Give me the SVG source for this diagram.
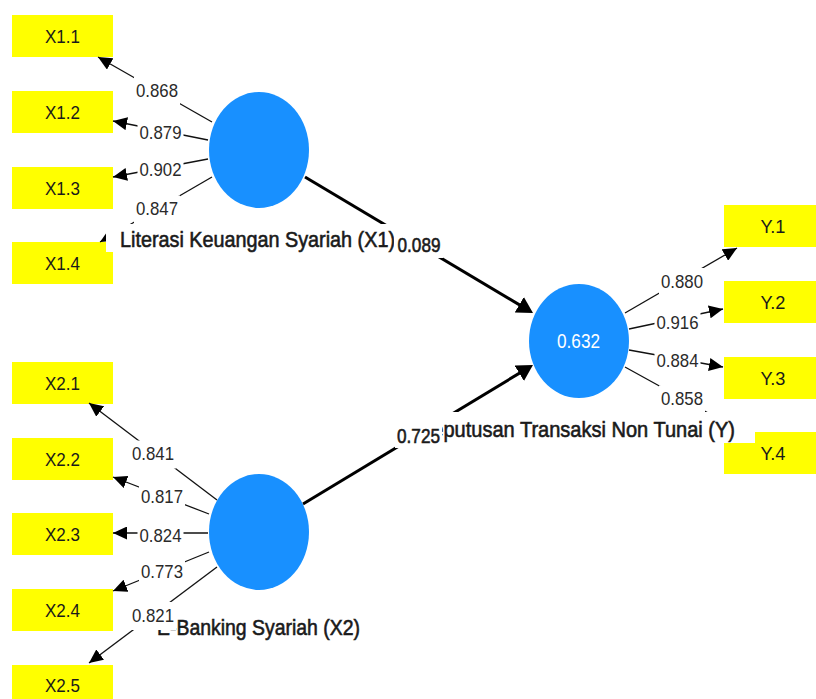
<svg xmlns="http://www.w3.org/2000/svg" width="816" height="699" viewBox="0 0 816 699">
  <style>
    text { font-family: "Liberation Sans", Arial, sans-serif; }
    .ind rect { fill: #ffff00; }
    .ind text { font-size: 18.5px; fill: #1a1a1a; text-anchor: middle; }
    .lv ellipse { fill: #1890ff; }
    .lv .name { font-size: 22px; fill: #1a1a1a; stroke: #1a1a1a; stroke-width: 0.6; }
    .lv .bg, .lbl rect { fill: #ffffff; }
    .r2 { font-size: 21px; fill: #ffffff; text-anchor: middle; }
    .load { stroke: #111; stroke-width: 1.3; fill: none; marker-end: url(#headS); }
    .path { stroke: #000; stroke-width: 3; fill: none; marker-end: url(#headL); }
    .lbl text { font-size: 18.5px; fill: #2a2a2a; text-anchor: middle; }
    .lbl text.b { font-size: 21px; fill: #1a1a1a; stroke: #1a1a1a; stroke-width: 0.6; }
  </style>
  <defs>
    <marker id="headS" markerUnits="userSpaceOnUse" markerWidth="14" markerHeight="13" refX="14" refY="6.5" orient="auto">
      <path d="M0,0 L14,6.5 L0,13 Z" fill="#000"/>
    </marker>
    <marker id="headL" markerUnits="userSpaceOnUse" markerWidth="16" markerHeight="18" refX="11" refY="9" orient="auto">
      <path d="M0,0 L16,9 L0,18 Z" fill="#000"/>
    </marker>
  </defs>
  <rect width="816" height="699" fill="#ffffff"/>

  <!-- indicators -->
  <g id="X1.1" class="ind"><rect x="12" y="15" width="101" height="42"/><text x="62.5" y="42.5" textLength="35" lengthAdjust="spacingAndGlyphs">X1.1</text></g>
  <g id="X1.2" class="ind"><rect x="12" y="91" width="101" height="42"/><text x="62.5" y="118.5" textLength="35" lengthAdjust="spacingAndGlyphs">X1.2</text></g>
  <g id="X1.3" class="ind"><rect x="12" y="167" width="101" height="42"/><text x="62.5" y="194.5" textLength="35" lengthAdjust="spacingAndGlyphs">X1.3</text></g>
  <g id="X1.4" class="ind"><rect x="12" y="242" width="101" height="42"/><text x="62.5" y="269.5" textLength="35" lengthAdjust="spacingAndGlyphs">X1.4</text></g>
  <g id="X2.1" class="ind"><rect x="12" y="362" width="101" height="42"/><text x="62.5" y="389.5" textLength="35" lengthAdjust="spacingAndGlyphs">X2.1</text></g>
  <g id="X2.2" class="ind"><rect x="12" y="438" width="101" height="42"/><text x="62.5" y="465.5" textLength="35" lengthAdjust="spacingAndGlyphs">X2.2</text></g>
  <g id="X2.3" class="ind"><rect x="12" y="513" width="101" height="42"/><text x="62.5" y="540.5" textLength="35" lengthAdjust="spacingAndGlyphs">X2.3</text></g>
  <g id="X2.4" class="ind"><rect x="12" y="589" width="101" height="42"/><text x="62.5" y="616.5" textLength="35" lengthAdjust="spacingAndGlyphs">X2.4</text></g>
  <g id="X2.5" class="ind"><rect x="12" y="665" width="101" height="42"/><text x="62.5" y="691.5" textLength="35" lengthAdjust="spacingAndGlyphs">X2.5</text></g>
  <g id="Y.1" class="ind"><rect x="724" y="205" width="101" height="42"/><text x="773" y="232.5" textLength="25" lengthAdjust="spacingAndGlyphs">Y.1</text></g>
  <g id="Y.2" class="ind"><rect x="724" y="281" width="101" height="42"/><text x="773" y="308.5" textLength="25" lengthAdjust="spacingAndGlyphs">Y.2</text></g>
  <g id="Y.3" class="ind"><rect x="724" y="357" width="101" height="42"/><text x="773" y="384.5" textLength="25" lengthAdjust="spacingAndGlyphs">Y.3</text></g>
  <g id="Y.4" class="ind"><rect x="724" y="432" width="101" height="42"/><text x="773" y="459.5" textLength="25" lengthAdjust="spacingAndGlyphs">Y.4</text></g>

  <!-- connectors -->
  <g id="connectors">
    <line class="load" x1="212" y1="122" x2="98" y2="57"/>
    <line class="load" x1="208" y1="140" x2="113" y2="121"/>
    <line class="load" x1="208" y1="159" x2="113" y2="177"/>
    <line class="load" x1="212" y1="177" x2="100" y2="242"/>
    <line class="load" x1="217" y1="500" x2="89" y2="403"/>
    <line class="load" x1="209" y1="514" x2="113" y2="477"/>
    <line class="load" x1="208" y1="533" x2="113" y2="533"/>
    <line class="load" x1="209" y1="552" x2="113" y2="591"/>
    <line class="load" x1="217" y1="567" x2="89" y2="663"/>
    <line class="load" x1="625" y1="313" x2="737" y2="248"/>
    <line class="load" x1="629" y1="329" x2="723" y2="309"/>
    <line class="load" x1="629" y1="350" x2="723" y2="367"/>
    <line class="load" x1="625" y1="367" x2="739" y2="430"/>
    <line class="path" x1="305" y1="177" x2="528.7" y2="310.4"/>
    <line class="path" x1="303" y1="504" x2="528.7" y2="367.6"/>
  </g>

  <!-- constructs -->
  <g id="X1" class="lv">
    <ellipse cx="259" cy="150" rx="50" ry="58"/>
    <rect class="bg" x="106" y="224" width="309" height="28"/>
    <text class="name" x="120" y="247" textLength="275" lengthAdjust="spacingAndGlyphs">Literasi Keuangan Syariah (X1)</text>
  </g>
  <g id="X2" class="lv">
    <ellipse cx="259" cy="532" rx="50" ry="58"/>
    <rect class="bg" x="145" y="610" width="235" height="31"/>
    <text class="name" x="157" y="635" textLength="203" lengthAdjust="spacingAndGlyphs">E-Banking Syariah (X2)</text>
  </g>
  <g id="Y" class="lv">
    <ellipse cx="579" cy="341" rx="50" ry="57"/>
    <text class="r2" x="578.5" y="348" textLength="43" lengthAdjust="spacingAndGlyphs">0.632</text>
    <rect class="bg" x="405" y="412" width="350" height="31"/>
    <text class="name" x="419" y="437" textLength="316" lengthAdjust="spacingAndGlyphs">Keputusan Transaksi Non Tunai (Y)</text>
  </g>

  <!-- connector labels -->
  <g id="connector-labels" class="lbl">
    <rect x="134" y="77" width="46" height="28"/><text x="157" y="96.6" textLength="42" lengthAdjust="spacingAndGlyphs">0.868</text>
    <rect x="137.5" y="119.5" width="46" height="28"/><text x="160.5" y="139.1" textLength="42" lengthAdjust="spacingAndGlyphs">0.879</text>
    <rect x="137.5" y="156.5" width="46" height="28"/><text x="160.5" y="176.1" textLength="42" lengthAdjust="spacingAndGlyphs">0.902</text>
    <rect x="134" y="195.5" width="46" height="28"/><text x="157" y="215.1" textLength="42" lengthAdjust="spacingAndGlyphs">0.847</text>
    <rect x="130" y="440.5" width="46" height="28"/><text x="153" y="460.1" textLength="42" lengthAdjust="spacingAndGlyphs">0.841</text>
    <rect x="139" y="483.5" width="46" height="28"/><text x="162" y="503.1" textLength="42" lengthAdjust="spacingAndGlyphs">0.817</text>
    <rect x="137.5" y="522" width="46" height="28"/><text x="160.5" y="541.6" textLength="42" lengthAdjust="spacingAndGlyphs">0.824</text>
    <rect x="139" y="558.5" width="46" height="28"/><text x="162" y="578.1" textLength="42" lengthAdjust="spacingAndGlyphs">0.773</text>
    <rect x="130" y="602" width="46" height="28"/><text x="153" y="621.6" textLength="42" lengthAdjust="spacingAndGlyphs">0.821</text>
    <rect x="659" y="268" width="46" height="28"/><text x="682" y="287.6" textLength="42" lengthAdjust="spacingAndGlyphs">0.880</text>
    <rect x="654.5" y="309.5" width="46" height="28"/><text x="677.5" y="329.1" textLength="42" lengthAdjust="spacingAndGlyphs">0.916</text>
    <rect x="654.5" y="347" width="46" height="28"/><text x="677.5" y="366.6" textLength="42" lengthAdjust="spacingAndGlyphs">0.884</text>
    <rect x="659" y="385.5" width="46" height="28"/><text x="682" y="405.1" textLength="42" lengthAdjust="spacingAndGlyphs">0.858</text>
    <rect x="394" y="229" width="49" height="29"/><text class="b" x="419" y="252" textLength="43" lengthAdjust="spacingAndGlyphs">0.089</text>
    <rect x="395" y="420" width="47" height="28"/><text class="b" x="418.5" y="443" textLength="43" lengthAdjust="spacingAndGlyphs">0.725</text>
  </g>
</svg>
